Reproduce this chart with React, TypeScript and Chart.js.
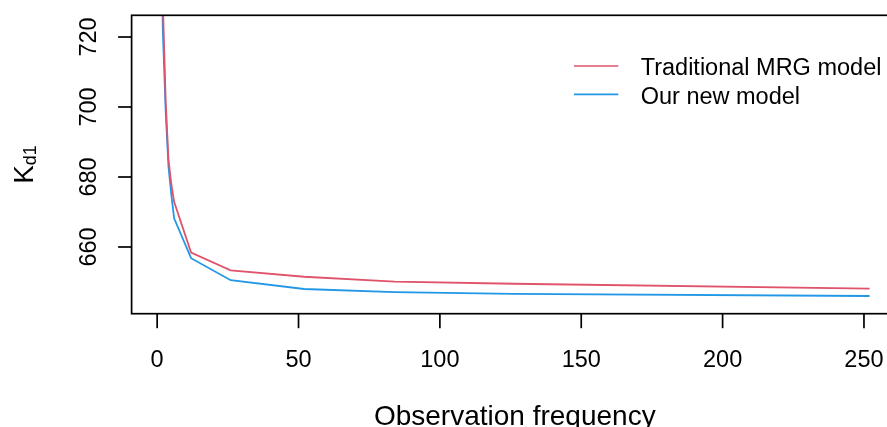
import React, { useEffect, useRef } from "react";
import { Chart, registerables } from "chart.js";

Chart.register(...registerables);

// ---- data ----
const observationFrequency = [1, 2, 3, 4, 5, 6, 12, 26, 52, 84, 126, 252];
const traditionalMRG = [780, 730, 702, 685, 678, 672.9, 658.4, 653.3, 651.5, 650.1, 649.5, 648.1];
const ourNewModel = [775, 722, 699, 683, 675, 668.2, 656.8, 650.5, 648.0, 647.1, 646.6, 646.0];
const xTicks = [0, 50, 100, 150, 200, 250];
const yTicks = [660, 680, 700, 720];
const seriesNames = ["Traditional MRG model", "Our new model"];
const seriesColors = ["#DF536B", "#2297E6"];
const xTitle = "Observation frequency";
const yTitleMain = "K";
const yTitleSub = "d1";

const FONT = '"Liberation Sans", Arial, Helvetica, sans-serif';

const rAxesPlugin = {
  id: "rAxes",
  afterDraw(chart: any) {
    const { ctx, chartArea } = chart;
    const { left, right, top, bottom } = chartArea;
    const xs = chart.scales.x;
    const ys = chart.scales.y;
    ctx.save();
    ctx.strokeStyle = "#000";
    ctx.fillStyle = "#000";
    ctx.lineWidth = 1.7;
    // box
    ctx.strokeRect(left, top, right - left, bottom - top);

    // x ticks and labels
    ctx.font = `23.5px ${FONT}`;
    ctx.textAlign = "center";
    ctx.textBaseline = "alphabetic";
    for (const v of xTicks) {
      const px = xs.getPixelForValue(v);
      ctx.beginPath();
      ctx.moveTo(px, bottom);
      ctx.lineTo(px, bottom + 14.5);
      ctx.stroke();
      ctx.fillText(String(v), px, bottom + 53);
    }
    // y ticks and labels (rotated)
    for (const v of yTicks) {
      const py = ys.getPixelForValue(v);
      ctx.beginPath();
      ctx.moveTo(left - 13.5, py);
      ctx.lineTo(left, py);
      ctx.stroke();
      ctx.save();
      ctx.translate(left - 35.3, py);
      ctx.rotate(-Math.PI / 2);
      ctx.fillText(String(v), 0, 0);
      ctx.restore();
    }

    // x title
    ctx.font = `28px ${FONT}`;
    ctx.textAlign = "center";
    ctx.fillText(xTitle, (left + right) / 2, bottom + 111.3);

    // y title with subscript
    const midY = (top + bottom) / 2;
    ctx.save();
    ctx.translate(33.3, midY);
    ctx.rotate(-Math.PI / 2);
    ctx.font = `28px ${FONT}`;
    const wMain = ctx.measureText(yTitleMain).width;
    ctx.font = `18px ${FONT}`;
    const wSub = ctx.measureText(yTitleSub).width;
    const start = -(wMain + wSub) / 2;
    ctx.textAlign = "left";
    ctx.font = `28px ${FONT}`;
    ctx.fillText(yTitleMain, start, 0);
    ctx.font = `18px ${FONT}`;
    ctx.fillText(yTitleSub, start + wMain, 3);
    ctx.restore();

    // legend
    ctx.font = `23.5px ${FONT}`;
    ctx.textAlign = "left";
    const lineYs = [66, 94.3];
    const textYs = [75, 104.3];
    seriesNames.forEach((name, i) => {
      ctx.strokeStyle = seriesColors[i];
      ctx.lineWidth = 1.7;
      ctx.beginPath();
      ctx.moveTo(574, lineYs[i]);
      ctx.lineTo(618.3, lineYs[i]);
      ctx.stroke();
      ctx.fillStyle = "#000";
      ctx.fillText(name, 640.7, textYs[i]);
    });
    ctx.restore();
  },
};

export default function App() {
  const canvasRef = useRef<HTMLCanvasElement | null>(null);

  useEffect(() => {
    if (!canvasRef.current) return;
    const seriesValues = [traditionalMRG, ourNewModel];
    const chart = new Chart(canvasRef.current, {
      type: "line",
      data: {
        datasets: seriesNames.map((name, i) => ({
          label: name,
          data: observationFrequency.map((x, j) => ({ x, y: seriesValues[i][j] })),
          borderColor: seriesColors[i],
          backgroundColor: seriesColors[i],
          borderWidth: 1.8,
          pointRadius: 0,
          tension: 0,
          fill: false,
        })),
      },
      options: {
        animation: false,
        responsive: true,
        maintainAspectRatio: false,
        layout: { padding: { left: 131.6, top: 15.3, right: 22, bottom: 113.3 } },
        scales: {
          x: { type: "linear", min: -9.04, max: 262.04, display: false },
          y: { type: "linear", min: 640.94, max: 726.2, display: false },
        },
        plugins: {
          legend: { display: false },
          tooltip: { enabled: false },
        },
      },
      plugins: [rAxesPlugin],
    });
    return () => chart.destroy();
  }, []);

  return (
    <div
      style={{
        position: "fixed",
        left: 0,
        top: 0,
        width: 887,
        height: 427,
        overflow: "hidden",
        background: "#fff",
      }}
    >
      <div style={{ position: "relative", width: 920, height: 427 }}>
        <canvas ref={canvasRef} />
      </div>
    </div>
  );
}
